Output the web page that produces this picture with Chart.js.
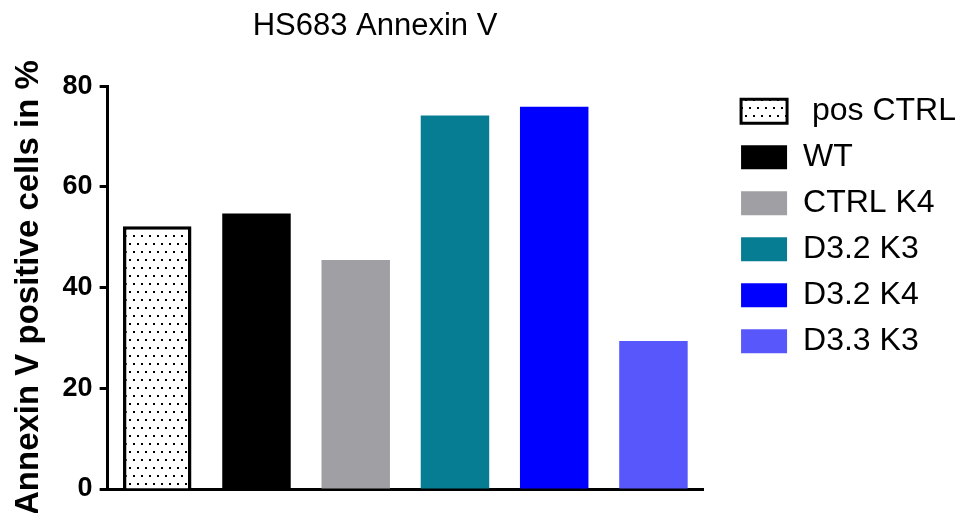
<!DOCTYPE html>
<html>
<head>
<meta charset="utf-8">
<script src="https://cdn.jsdelivr.net/npm/chart.js@4"></script>
<style>
  html, body { margin: 0; padding: 0; background: #fff; }
  #wrap { width: 966px; height: 513px; position: relative; }
</style>
</head>
<body>
<div id="wrap"><canvas id="annexinChart"></canvas></div>
<script>
// values
const groups = [' pos CTRL', 'WT', 'CTRL K4', 'D3.2 K3', 'D3.2 K4', 'D3.3 K3'];
const annexinPositive = [52.2, 54.7, 45.5, 74.2, 75.9, 29.4];
const yTicks = [0, 20, 40, 60, 80];

const FONT = "'Liberation Sans', Arial, Helvetica, sans-serif";

// dotted fill for the positive control
function dotPattern() {
    const c = document.createElement('canvas');
    c.width = 8;
    c.height = 16;
    const g = c.getContext('2d');
    g.fillStyle = '#fff';
    g.fillRect(0, 0, 8, 16);
    g.fillStyle = '#000';
    g.fillRect(1, 3, 2, 2);
    g.fillRect(5, 11, 2, 2);
    return g.createPattern(c, 'repeat');
}

const ctx = document.getElementById('annexinChart').getContext('2d');
const fills = [dotPattern(), '#000000', '#A0A0A4', '#077D93', '#0000FF', '#5757FB'];

// title centred over the graph part, legend nudged up a little
const nudge = {
    id: 'nudge',
    afterLayout(chart) {
        chart.titleBlock.left = 0;
        chart.titleBlock.right = 750;
        chart.legend.top -= 5;
        chart.legend.bottom -= 5;
    }
};

new Chart(ctx, {
    type: 'bar',
    data: {
        labels: groups,
        datasets: [{
            label: 'Annexin V',
            data: annexinPositive,
            backgroundColor: fills,
            borderColor: '#000',
            borderWidth: [3.5, 0, 0, 0, 0, 0],
            barPercentage: 0.69,
            categoryPercentage: 1
        }]
    },
    options: {
        responsive: true,
        maintainAspectRatio: false,
        animation: false,
        layout: { padding: { left: 9, right: 0, top: 0, bottom: 24 } },
        plugins: {
            title: {
                display: true,
                text: 'HS683 Annexin V',
                color: '#000',
                font: { family: FONT, size: 31, weight: 'normal' },
                padding: { top: 8, bottom: 41 }
            },
            legend: {
                position: 'right',
                align: 'start',
                fullSize: false,
                onClick: null,
                labels: {
                    boxWidth: 46,
                    boxHeight: 24,
                    padding: 14,
                    color: '#000',
                    font: { family: FONT, size: 32 },
                    generateLabels(chart) {
                        const ds = chart.data.datasets[0];
                        return chart.data.labels.map((name, i) => ({
                            text: name,
                            fillStyle: ds.backgroundColor[i],
                            strokeStyle: '#000',
                            lineWidth: i === 0 ? 3 : 0,
                            fontColor: '#000',
                            hidden: false,
                            index: i,
                            datasetIndex: 0
                        }));
                    }
                }
            },
            tooltip: { enabled: false }
        },
        scales: {
            x: {
                grid: { display: false, drawTicks: false },
                border: { display: true, color: '#000', width: 3 },
                ticks: { display: false }
            },
            y: {
                min: 0,
                max: 80,
                afterBuildTicks(scale) {
                    scale.ticks = yTicks.map(v => ({ value: v }));
                },
                grid: {
                    display: true,
                    drawOnChartArea: false,
                    drawTicks: true,
                    tickLength: 8,
                    tickWidth: 3,
                    color: '#000'
                },
                border: { display: true, color: '#000', width: 3 },
                ticks: {
                    color: '#000',
                    padding: 7,
                    font: { family: FONT, size: 27, weight: 'bold' }
                },
                title: {
                    display: true,
                    text: 'Annexin V positive cells in %',
                    color: '#000',
                    font: { family: FONT, size: 33, weight: 'bold' },
                    padding: { top: 0, bottom: 7 }
                }
            },
            // hidden right-hand axis: only keeps a gap between plot and legend
            gap: {
                type: 'linear',
                position: 'right',
                display: false,
                afterFit(scale) {
                    scale.width = 24;
                }
            }
        }
    },
    plugins: [nudge]
});
</script>
</body>
</html>
